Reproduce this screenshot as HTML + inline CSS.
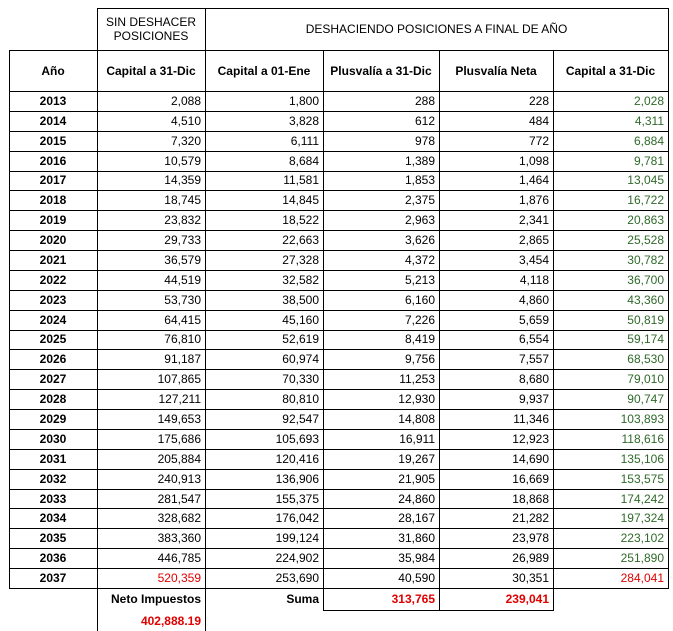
<!DOCTYPE html>
<html><head><meta charset="utf-8">
<style>
body{margin:0;background:#fff;width:673px;height:631px;overflow:hidden;position:relative;font-family:"Liberation Sans",Arial,sans-serif;font-size:12px;color:#000}
.c{position:absolute;box-sizing:border-box;display:flex;align-items:center;white-space:nowrap}
.r{justify-content:flex-end;padding-right:4px}
.m{justify-content:center;text-align:center}
.b{font-weight:bold}
.ln{position:absolute;background:#000}
</style></head><body>
<div id="tbl"></div>
<script>
const years=[2013,2014,2015,2016,2017,2018,2019,2020,2021,2022,2023,2024,2025,2026,2027,2028,2029,2030,2031,2032,2033,2034,2035,2036,2037];
const capSin=["2,088","4,510","7,320","10,579","14,359","18,745","23,832","29,733","36,579","44,519","53,730","64,415","76,810","91,187","107,865","127,211","149,653","175,686","205,884","240,913","281,547","328,682","383,360","446,785","520,359"];
const capEne=["1,800","3,828","6,111","8,684","11,581","14,845","18,522","22,663","27,328","32,582","38,500","45,160","52,619","60,974","70,330","80,810","92,547","105,693","120,416","136,906","155,375","176,042","199,124","224,902","253,690"];
const plus=["288","612","978","1,389","1,853","2,375","2,963","3,626","4,372","5,213","6,160","7,226","8,419","9,756","11,253","12,930","14,808","16,911","19,267","21,905","24,860","28,167","31,860","35,984","40,590"];
const neta=["228","484","772","1,098","1,464","1,876","2,341","2,865","3,454","4,118","4,860","5,659","6,554","7,557","8,680","9,937","11,346","12,923","14,690","16,669","18,868","21,282","23,978","26,989","30,351"];
const capDic=["2,028","4,311","6,884","9,781","13,045","16,722","20,863","25,528","30,782","36,700","43,360","50,819","59,174","68,530","79,010","90,747","103,893","118,616","135,106","153,575","174,242","197,324","223,102","251,890","284,041"];
const X=[9,97,205,323,439,553,668];
const top0=91,RH=19.88;
const root=document.body;
function cell(x,y,w,h,txt,cls,color,name){
  const d=document.createElement('div');
  d.className='c '+cls;
  d.style.left=x+'px';d.style.top=y+'px';d.style.width=w+'px';d.style.height=h+'px';
  if(color)d.style.color=color;
  d.innerHTML=txt;
  
  
  root.appendChild(d);
}
function ln(x,y,w,h){const d=document.createElement('div');d.className='ln';d.style.left=x+'px';d.style.top=y+'px';d.style.width=w+'px';d.style.height=h+'px';root.appendChild(d);}
// headers
cell(X[1],8,X[2]-X[1],42,'SIN DESHACER<br>POSICIONES','m','', 'header-sin-deshacer');
cell(X[2],8,X[6]-X[2],42,'DESHACIENDO POSICIONES A FINAL DE AÑO','m','', 'header-deshaciendo');
const hdr=['Año','Capital a 31-Dic','Capital a 01-Ene','Plusvalía a 31-Dic','Plusvalía Neta','Capital a 31-Dic'];
hdr.forEach((t,i)=>cell(X[i],50,X[i+1]-X[i],41,t,'m b','', 'column-header'));
const cols=[capSin,capEne,plus,neta,capDic];
years.forEach((yr,r)=>{
  const y=top0+r*RH;const last=r===years.length-1;
  cell(X[0],y,X[1]-X[0],RH,yr,'m b','', 'year-cell');
  cols.forEach((arr,k)=>{
    let col='';
    if(k===4)col=last?'#e00000':'#2f6a2a';
    if(k===0&&last)col='#e00000';
    cell(X[k+1],y,X[k+2]-X[k+1],RH,arr[r],'r','',col?'value-cell':'value-cell');
    root.lastChild.style.color=col||'#000';
  });
});
const bot=top0+years.length*RH;
// grid lines
ln(X[1],8,X[6]-X[1]+1,1);
ln(X[0],50,X[6]-X[0]+1,1);
for(let r=0;r<=years.length;r++)ln(X[0],Math.round(top0+r*RH),X[6]-X[0]+1,1);
ln(X[0],50,1,bot-50+1);
ln(X[1],8,1,631-8);
ln(X[2],8,1,bot-8+1);
for(let i=3;i<6;i++)ln(X[i],50,1,bot-50+1);
ln(X[6],8,1,bot-8+1);
ln(X[3],bot,1,22);ln(X[4],bot,1,22);ln(X[5],bot,1,22);
ln(X[3],bot+22,X[5]-X[3]+1,1);
ln(X[2],bot,1,43);
// footer
cell(X[1],bot,X[2]-X[1],22,'Neto Impuestos','r b','', 'neto-impuestos-label');
cell(X[1],bot+22,X[2]-X[1],21,'402,888.19','r b','#e00000','neto-impuestos-value');
cell(X[2],bot,X[3]-X[2],22,'Suma','r b','', 'suma-label');
cell(X[3],bot,X[4]-X[3],22,'313,765','r b','#e00000','suma-plusvalia');
cell(X[4],bot,X[5]-X[4],22,'239,041','r b','#e00000','suma-neta');
</script>
</body></html>
